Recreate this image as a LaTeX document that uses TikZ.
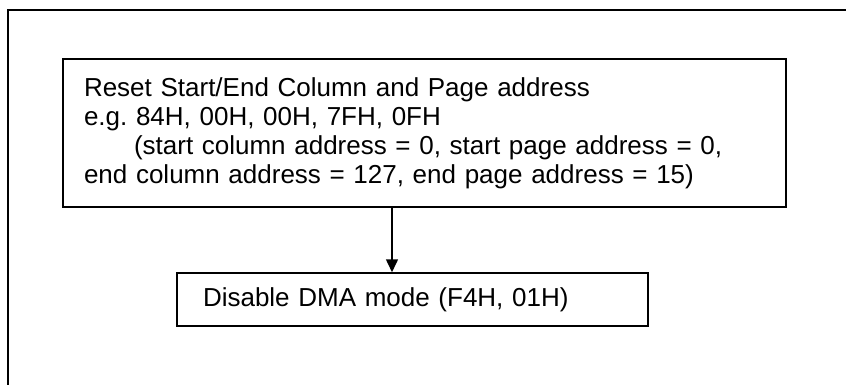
\documentclass[tikz,border=0pt]{standalone}
\usepackage{fontspec}
\setmainfont{Liberation Sans}
\usetikzlibrary{arrows.meta,positioning}
\frenchspacing

\begin{document}
\begin{tikzpicture}[x=1pt, y=-1pt, line width=1.5pt,
    stepbox/.style={draw, inner sep=0pt, align=left, font=\fontsize{26}{29}\selectfont}]
                \useasboundingbox (0,0) rectangle (846,385);
                \draw (846,10) -- (8,10) -- (8,385);

                \node[stepbox, minimum width=723pt, minimum height=148pt, text width=681pt] (reset) at (424.5,133)
                    {Reset Start/End Column and Page address\\
                     e.g. 84H, 00H, 00H, 7FH, 0FH\\
                     \hspace*{50pt}(start column address = 0, start page address = 0,\\
                     end column address = 127, end page address = 15)};
                \node[stepbox, minimum width=471pt, minimum height=53pt, text width=419pt] (dma) at (412.5,299.5)
                    {Disable DMA mode (F4H, 01H)};

                \coordinate (arrowx) at (392,0);
                \draw[-{Triangle[length=13pt, width=12pt]}] (reset.south -| arrowx) -- (dma.north -| arrowx);
            \end{tikzpicture}
\end{document}
